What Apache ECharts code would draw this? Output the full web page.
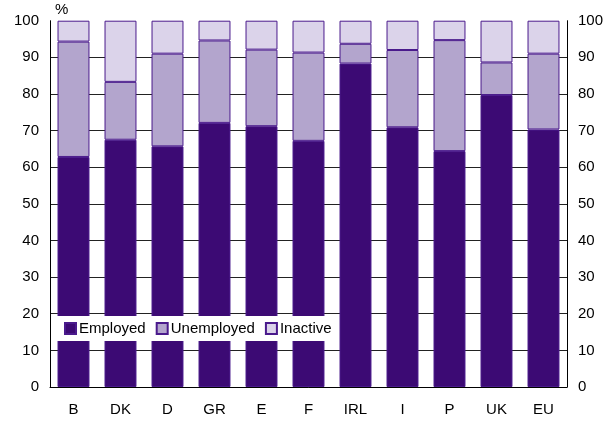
<!DOCTYPE html>
<html>
<head>
<meta charset="utf-8">
<script src="https://cdn.jsdelivr.net/npm/echarts@6/dist/echarts.min.js"></script>
<style>
  html, body { margin: 0; padding: 0; background: #fff; }
  #chart { width: 616px; height: 421px; }
</style>
</head>
<body>
<div id="chart"></div>
<script>
// Labour market status shares by country (%)
const countries = ["B", "DK", "D", "GR", "E", "F", "IRL", "I", "P", "UK", "EU"];
const employed = [62.8, 67.5, 65.7, 72.1, 71.2, 67.2, 88.3, 70.9, 64.4, 79.7, 70.3];
const unemployed = [31.5, 15.8, 25.3, 22.5, 20.9, 24.1, 5.4, 21.1, 30.3, 8.9, 20.7];
const inactive = [5.7, 16.7, 9.0, 5.4, 7.9, 8.7, 6.3, 8.0, 5.3, 11.4, 9.0];

const font = "Liberation Sans, Arial, sans-serif";
const border = "#4a1a8c";

const chart = echarts.init(document.getElementById("chart"), null, { renderer: "canvas" });

const makeSeries = (name, data, color) => ({
  name,
  type: "bar",
  stack: "total",
  barCategoryGap: "32%",
  data,
  itemStyle: { color, borderColor: border, borderWidth: 1 },
  emphasis: { disabled: true },
});

const valueAxis = (position) => ({
  type: "value",
  position,
  min: 0,
  max: 100,
  interval: 10,
  axisLine: { show: true, lineStyle: { color: "#000", width: 1 } },
  axisTick: { show: false },
  axisLabel: { color: "#000", fontSize: 15, fontFamily: font, margin: 11 },
  splitLine: {
    show: position === "left",
    showMaxLine: false,
    lineStyle: { color: "#222", width: 1 },
  },
});

chart.setOption({
  animation: false,
  textStyle: { fontFamily: font },
  grid: { left: 50, right: 49, top: 20.7, bottom: 34, containLabel: false },
  graphic: [
    {
      type: "text",
      left: 55,
      top: 2,
      style: { text: "%", fontSize: 15, fontFamily: font, fill: "#000" },
    },
  ],
  legend: {
    left: 57,
    top: 316,
    backgroundColor: "#fff",
    padding: [5, 4, 5, 7],
    itemWidth: 11,
    itemHeight: 11,
    itemGap: 10,
    icon: "rect",
    selectedMode: false,
    textStyle: { fontSize: 15, fontFamily: font, color: "#000", padding: [0, 0, 0, -2] },
    data: ["Employed", "Unemployed", "Inactive"],
  },
  xAxis: {
    type: "category",
    data: countries,
    axisLine: { show: true, lineStyle: { color: "#000", width: 1 } },
    axisTick: { show: false },
    axisLabel: { color: "#000", fontSize: 15, fontFamily: font, margin: 15 },
  },
  yAxis: [valueAxis("left"), valueAxis("right")],
  series: [
    makeSeries("Employed", employed, "#3c0a74"),
    makeSeries("Unemployed", unemployed, "#b3a5cd"),
    makeSeries("Inactive", inactive, "#dbd3ea"),
  ],
});
</script>
</body>
</html>
